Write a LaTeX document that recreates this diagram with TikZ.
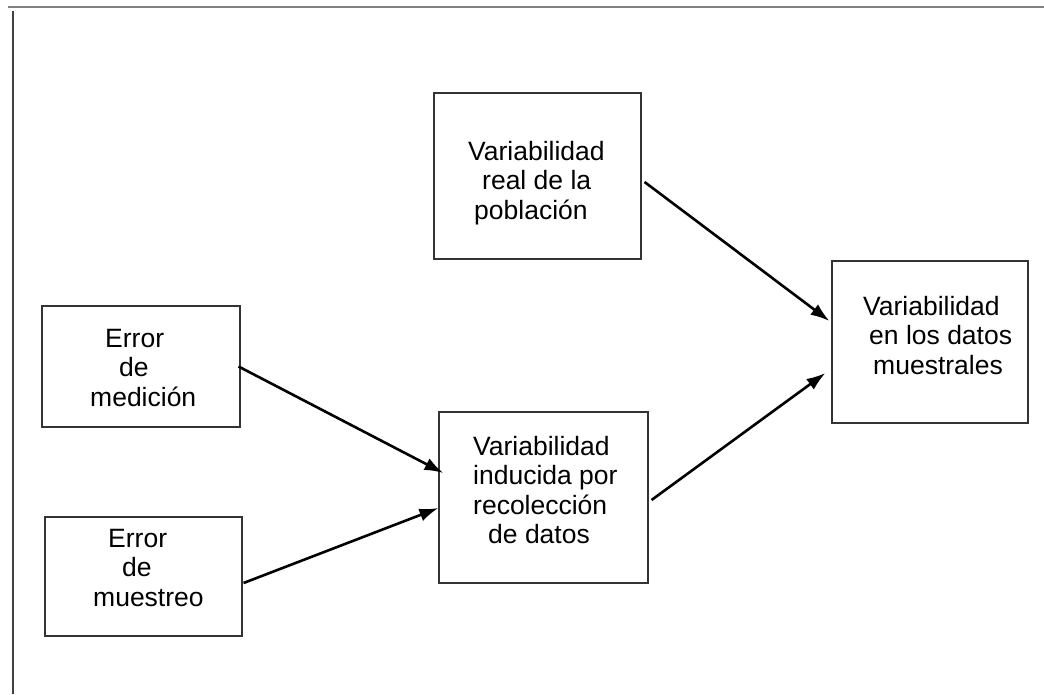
\documentclass[tikz,border=0pt]{standalone}
\usepackage{fontspec}
\setmainfont{Liberation Sans}
\usetikzlibrary{arrows.meta}
\tikzset{
  box/.style={draw=black!80, line width=1.1pt, rectangle, inner sep=0pt},
  lbl/.style={anchor=north west, inner sep=0pt, align=left, font=\fontsize{26.5}{29.3}\selectfont},
  arr/.style={line width=2.6pt, -{Latex[length=19pt,width=13pt]}},
}
\begin{document}
\begin{tikzpicture}[x=1pt,y=-1pt]
\useasboundingbox (0,0) rectangle (1044,694);
% frame
\draw[black!50, line width=2pt] (8,7) -- (1044,7);
\draw[black!75, line width=1.3pt] (13,11) -- (13,694);
% boxes
\node[box, minimum width=207pt, minimum height=166pt] (pob) at (537.5,176) {};
\node[box, minimum width=196pt, minimum height=162pt] (mues) at (930,342) {};
\node[box, minimum width=198pt, minimum height=121pt] (med) at (141,366.5) {};
\node[box, minimum width=197pt, minimum height=119pt] (mst) at (143.5,576.5) {};
\node[box, minimum width=209pt, minimum height=171pt] (ind) at (543.5,497.5) {};
% texts
\node[lbl] (tpob) at (468,141) {Variabilidad\\\hspace*{14pt}real de la\\\hspace*{6pt}población};
\node[lbl] (tmues) at (863,296) {Variabilidad\\\hspace*{6pt}en los datos\\\hspace*{10pt}muestrales};
\node[lbl] (tmed) at (90,329) {\hspace*{15pt}Error\\\hspace*{29pt}de\\medición};
\node[lbl] (tmst) at (93,529) {\hspace*{15pt}Error\\\hspace*{29pt}de\\muestreo};
\node[lbl] (tind) at (473,436) {Variabilidad\\inducida por\\recolección\\\hspace*{15pt}de datos};
% arrows
\draw[arr] ([xshift=3pt,yshift=-6pt]pob.east) -- ([xshift=-2pt,yshift=21pt]mues.west);
\draw[arr] ([xshift=-2pt]med.east) -- ([xshift=5pt,yshift=24.5pt]ind.west);
\draw[arr] ([xshift=1pt,yshift=-6.5pt]mst.east) -- ([xshift=0pt,yshift=-10.5pt]ind.west);
\draw[arr] ([xshift=3pt,yshift=-2.5pt]ind.east) -- ([xshift=-6pt,yshift=-31pt]mues.west);
\end{tikzpicture}
\end{document}
